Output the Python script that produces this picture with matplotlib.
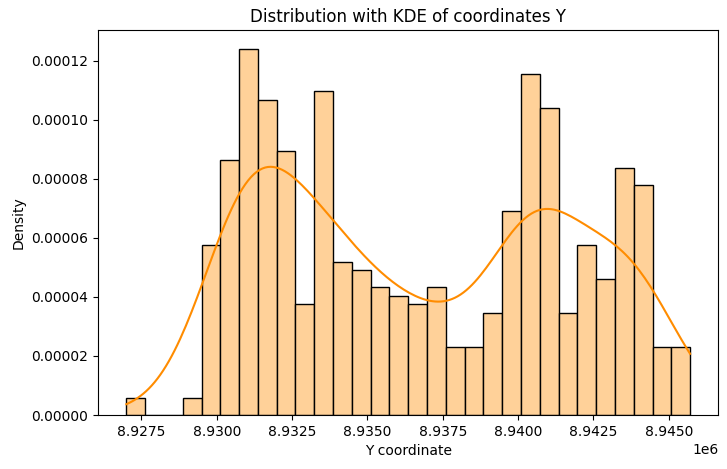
import numpy as np
import matplotlib.pyplot as plt

# histogram: 30 equal bins between y_min and y_max
y_min = 8927000.0
y_max = 8945710.0
counts = [2, 0, 0, 2, 20, 30, 43, 37, 31, 13,
          38, 18, 17, 15, 14, 13, 15, 8, 8, 12,
          24, 40, 36, 12, 20, 16, 29, 27, 8, 8]

BAR_COLOR = '#ffd199'
LINE_COLOR = 'darkorange'


def main():
    counts_arr = np.array(counts, dtype=float)
    edges = np.linspace(y_min, y_max, len(counts) + 1)
    centers = (edges[:-1] + edges[1:]) / 2
    width = edges[1] - edges[0]
    n = counts_arr.sum()
    density = counts_arr / (n * width)

    # gaussian kde (scott) on the binned observations
    mean = np.average(centers, weights=counts_arr)
    std = np.sqrt(np.average((centers - mean) ** 2, weights=counts_arr))
    bw = std * n ** (-1 / 5)
    grid = np.linspace(y_min, y_max, 200)
    z = (grid[:, None] - centers[None, :]) / bw
    kde = (np.exp(-0.5 * z ** 2) * counts_arr).sum(axis=1) / (n * bw * np.sqrt(2 * np.pi))

    fig, ax = plt.subplots(figsize=(7.27, 4.69), dpi=100)
    fig.subplots_adjust(left=0.135, right=0.988, top=0.935, bottom=0.115)

    ax.bar(centers, density, width=width, color=BAR_COLOR,
           edgecolor='black', linewidth=1)
    ax.plot(grid, kde, color=LINE_COLOR, linewidth=1.5)

    ax.set_title('Distribution with KDE of coordinates Y', fontsize=12)
    ax.set_xlabel('Y coordinate')
    ax.set_ylabel('Density')

    fig.savefig('out.png')


if __name__ == '__main__':
    main()
